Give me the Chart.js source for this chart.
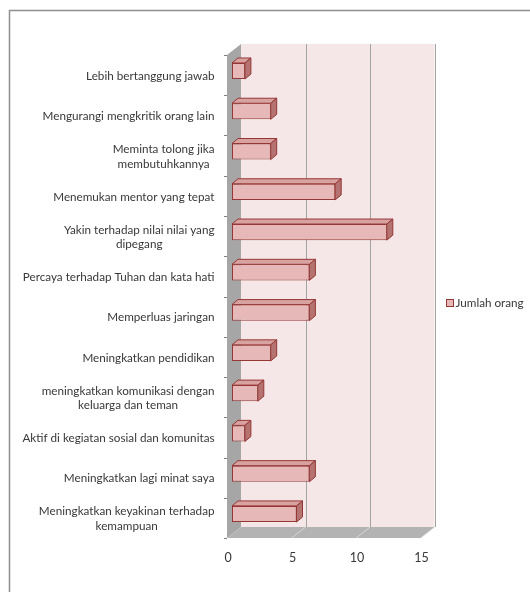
<!DOCTYPE html>
<html>
<head>
<meta charset="utf-8">
<script src="https://cdn.jsdelivr.net/npm/chart.js@4/dist/chart.umd.min.js"></script>
<style>
  html, body { margin: 0; padding: 0; background: #ffffff; }
  #wrap { position: relative; width: 530px; height: 592px; }
</style>
</head>
<body>
<div id="wrap"><canvas id="c" width="530" height="592"></canvas></div>
<script>
// Categories (top to bottom), multi-line labels as arrays of lines
const categories = [
  ["Lebih bertanggung jawab"],
  ["Mengurangi mengkritik orang lain"],
  ["Meminta tolong jika", "membutuhkannya"],
  ["Menemukan mentor yang tepat"],
  ["Yakin terhadap nilai nilai yang", "dipegang"],
  ["Percaya terhadap Tuhan dan kata hati"],
  ["Memperluas jaringan"],
  ["Meningkatkan pendidikan"],
  ["meningkatkan komunikasi dengan", "keluarga dan teman"],
  ["Aktif di kegiatan sosial dan komunitas"],
  ["Meningkatkan lagi minat saya"],
  ["Meningkatkan keyakinan terhadap", "kemampuan"]
];
const jumlahOrang = [1, 3, 3, 8, 12, 6, 6, 3, 2, 1, 6, 5];
const xTicks = [0, 5, 10, 15];
const seriesName = "Jumlah orang";

const FONT = "Lato, 'Open Sans', sans-serif";
const TEXT = "#383838";
const BAR_FILL = "#e6b9b8";
const BAR_EDGE = "#953735";

// Offsets of the front (floor edge) plane and back wall relative to the bar plane
const FRONT = { dx: -5, dy: 4 };
const BACK = { dx: 9, dy: -7 };
const BAR_DEPTH = { dx: 6, dy: -5 };

const scene3d = {
  id: "scene3d",
  beforeDatasetsDraw(chart) {
    const ctx = chart.ctx;
    const xs = chart.scales.x, ys = chart.scales.y, ca = chart.chartArea;
    const x0 = xs.getPixelForValue(xTicks[0]);
    const xMax = xs.getPixelForValue(xTicks[xTicks.length - 1]);
    const yT = ca.top, yB = ca.bottom;
    ctx.save();

    // outer frame (top and left edges)
    ctx.strokeStyle = "#8f8f8f";
    ctx.lineWidth = 1.5;
    ctx.beginPath();
    ctx.moveTo(9.5, 592); ctx.lineTo(9.5, 10.5); ctx.lineTo(530, 10.5);
    ctx.stroke();

    // back wall
    ctx.fillStyle = "#f5e7e7";
    ctx.fillRect(x0 + BACK.dx, yT + BACK.dy, xMax - x0, yB - yT);
    ctx.strokeStyle = "#a3a3a3";
    ctx.lineWidth = 1;
    xTicks.slice(1).forEach(v => {
      const x = Math.round(xs.getPixelForValue(v) + BACK.dx) + 0.5;
      ctx.beginPath();
      ctx.moveTo(x, yT + BACK.dy); ctx.lineTo(x, yB + BACK.dy);
      ctx.stroke();
    });

    // left side wall
    ctx.fillStyle = "#a6a6a6";
    ctx.beginPath();
    ctx.moveTo(x0 + FRONT.dx, yT + FRONT.dy);
    ctx.lineTo(x0 + BACK.dx, yT + BACK.dy);
    ctx.lineTo(x0 + BACK.dx, yB + BACK.dy);
    ctx.lineTo(x0 + FRONT.dx, yB + FRONT.dy);
    ctx.closePath();
    ctx.fill();

    // floor
    ctx.fillStyle = "#b3b3b3";
    ctx.beginPath();
    ctx.moveTo(x0 + FRONT.dx, yB + FRONT.dy);
    ctx.lineTo(x0 + BACK.dx, yB + BACK.dy);
    ctx.lineTo(xMax + BACK.dx, yB + BACK.dy);
    ctx.lineTo(xMax + FRONT.dx, yB + FRONT.dy);
    ctx.closePath();
    ctx.fill();
    ctx.strokeStyle = "#d6d6d6";
    xTicks.slice(1).forEach(v => {
      const x = xs.getPixelForValue(v);
      ctx.beginPath();
      ctx.moveTo(x + FRONT.dx, yB + FRONT.dy);
      ctx.lineTo(x + BACK.dx, yB + BACK.dy);
      ctx.stroke();
    });

    // category tick marks on the side wall edge
    ctx.strokeStyle = "#7f7f7f";
    const n = categories.length;
    for (let i = 0; i <= n; i++) {
      let y;
      if (i === 0) y = yT;
      else if (i === n) y = yB;
      else y = (ys.getPixelForValue(i - 1) + ys.getPixelForValue(i)) / 2;
      y = Math.round(y + FRONT.dy) + 0.5;
      ctx.beginPath();
      ctx.moveTo(x0 + FRONT.dx - 3, y); ctx.lineTo(x0 + FRONT.dx, y);
      ctx.stroke();
    }

    // value axis labels on the front edge of the floor
    ctx.fillStyle = TEXT;
    ctx.font = "12.5px " + FONT;
    ctx.textAlign = "center";
    ctx.textBaseline = "middle";
    xTicks.forEach(v => {
      ctx.fillText(String(v), xs.getPixelForValue(v) + FRONT.dx + 1, yB + 24);
    });

    // category labels, each block centred and right-aligned to the axis
    ctx.font = "11.7px " + FONT;
    const rightEdge = 214.5;
    categories.forEach((lines, i) => {
      const yc = ys.getPixelForValue(i) + 5;
      const maxW = Math.max(...lines.map(l => ctx.measureText(l).width));
      const cx = rightEdge - maxW / 2;
      lines.forEach((l, j) => {
        ctx.fillText(l, cx, yc + (j - (lines.length - 1) / 2) * 14.5);
      });
    });

    // legend
    ctx.fillStyle = BAR_FILL;
    ctx.strokeStyle = BAR_EDGE;
    ctx.fillRect(446.5, 299.5, 7, 7);
    ctx.strokeRect(446.5, 299.5, 7, 7);
    ctx.fillStyle = TEXT;
    ctx.textAlign = "left";
    ctx.fillText(seriesName, 455.5, 303.5);

    ctx.restore();
  },
  afterDatasetsDraw(chart) {
    const ctx = chart.ctx;
    const meta = chart.getDatasetMeta(0);
    ctx.save();
    ctx.lineWidth = 1;
    ctx.strokeStyle = BAR_EDGE;
    ctx.lineJoin = "round";
    meta.data.forEach(bar => {
      const p = bar.getProps(["x", "y", "base", "height"], true);
      const xl = Math.min(p.base, p.x), xr = Math.max(p.base, p.x);
      const yt = p.y - p.height / 2, yb = p.y + p.height / 2;
      // top face
      ctx.fillStyle = "#d8a2a1";
      ctx.beginPath();
      ctx.moveTo(xl, yt);
      ctx.lineTo(xl + BAR_DEPTH.dx, yt + BAR_DEPTH.dy);
      ctx.lineTo(xr + BAR_DEPTH.dx, yt + BAR_DEPTH.dy);
      ctx.lineTo(xr, yt);
      ctx.closePath();
      ctx.fill(); ctx.stroke();
      // end face
      ctx.fillStyle = "#b47270";
      ctx.beginPath();
      ctx.moveTo(xr, yt);
      ctx.lineTo(xr + BAR_DEPTH.dx, yt + BAR_DEPTH.dy);
      ctx.lineTo(xr + BAR_DEPTH.dx, yb + BAR_DEPTH.dy);
      ctx.lineTo(xr, yb);
      ctx.closePath();
      ctx.fill(); ctx.stroke();
    });
    ctx.restore();
  }
};

new Chart(document.getElementById("c"), {
  type: "bar",
  data: {
    labels: categories,
    datasets: [{
      label: seriesName,
      data: jumlahOrang,
      backgroundColor: BAR_FILL,
      borderColor: BAR_EDGE,
      borderWidth: 1,
      borderSkipped: false,
      barPercentage: 0.4,
      categoryPercentage: 1
    }]
  },
  options: {
    indexAxis: "y",
    responsive: false,
    animation: false,
    layout: { padding: { left: 232, right: 104.5, top: 50.9, bottom: 57.9 } },
    scales: {
      x: { display: false, min: 0, max: 15 },
      y: { display: false }
    },
    plugins: { legend: { display: false }, tooltip: { enabled: false } }
  },
  plugins: [scene3d]
});
</script>
</body>
</html>
